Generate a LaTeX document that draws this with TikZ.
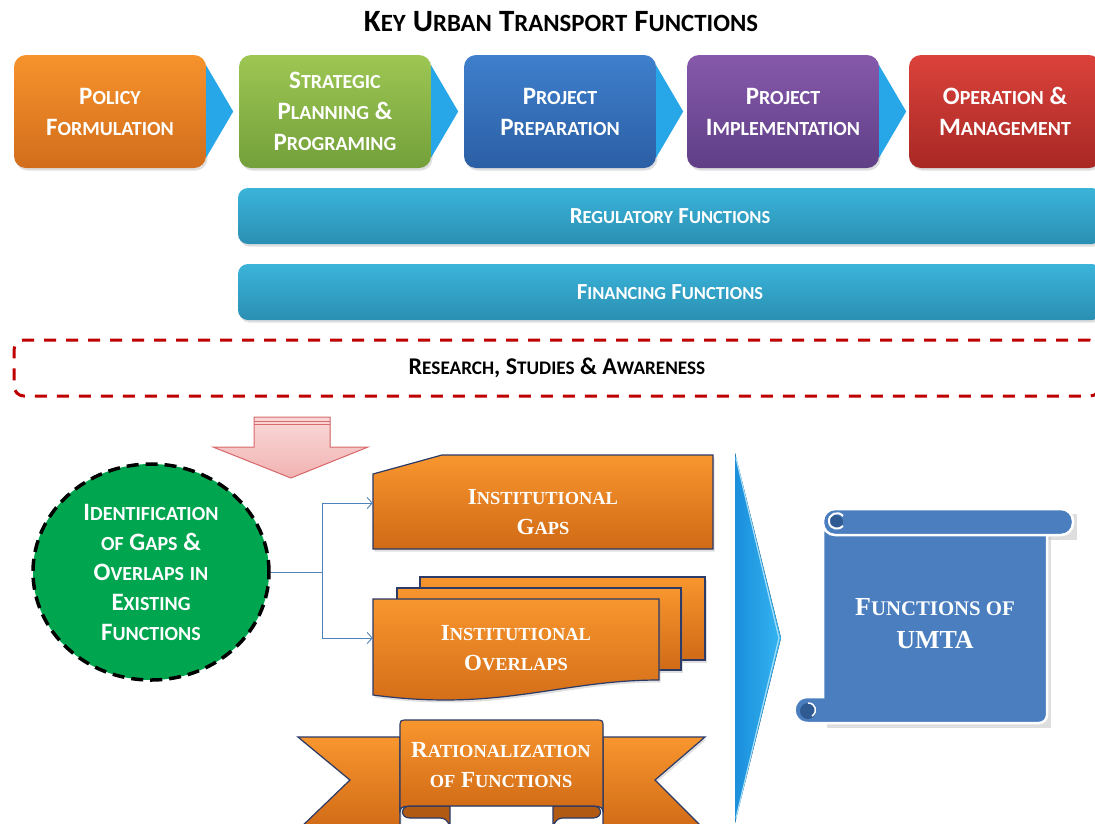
\documentclass[tikz,border=0pt]{standalone}
\usepackage{fontspec}
\setmainfont{Carlito}
\newfontfamily\serifb{Liberation Serif}
\usetikzlibrary{calc,arrows.meta,shadows,shapes.geometric}
\makeatletter
\newcommand\SC[1]{{\fontsize{\fpeval{0.8*\f@size}}{\f@baselineskip}\selectfont #1}}
\makeatother
\definecolor{orA}{HTML}{F7932C}
\definecolor{orB}{HTML}{D26D1C}
\definecolor{grA}{HTML}{9DC653}
\definecolor{grB}{HTML}{73A03A}
\definecolor{blA}{HTML}{3F7FCC}
\definecolor{blB}{HTML}{2B5FA5}
\definecolor{puA}{HTML}{8659AB}
\definecolor{puB}{HTML}{5F3F86}
\definecolor{reA}{HTML}{DB423B}
\definecolor{reB}{HTML}{A82824}
\definecolor{cyA}{HTML}{3BB4DA}
\definecolor{cyB}{HTML}{2A8FB2}
\definecolor{arrblue}{HTML}{27A6E8}
\definecolor{resred}{HTML}{C00000}
\definecolor{pinkA}{HTML}{F9D8D8}
\definecolor{pinkB}{HTML}{F2B3B3}
\definecolor{pinkD}{HTML}{D9696A}
\definecolor{idgreen}{HTML}{00A64F}
\definecolor{connblue}{HTML}{4F81BD}
\definecolor{docA}{HTML}{F8962E}
\definecolor{docB}{HTML}{D06A16}
\definecolor{docline}{HTML}{2B3A67}
\definecolor{chevA}{HTML}{1A8EDB}
\definecolor{chevB}{HTML}{35B5F2}
\definecolor{scrollblue}{HTML}{4A7EBF}
\definecolor{scrolldark}{HTML}{2F5A92}
\begin{document}
\begin{tikzpicture}[x=1pt,y=-1pt,
  topbox/.style={rounded corners=12pt, minimum width=192pt, minimum height=113pt, align=center, text=white, inner sep=0pt,
    font=\bfseries\fontsize{25}{31}\selectfont, drop shadow={opacity=0.25,shadow xshift=1.5pt,shadow yshift=-2.5pt}},
  barbox/.style={rounded corners=10pt, minimum width=864pt, minimum height=56pt, text=white, inner sep=0pt,
    top color=cyA, bottom color=cyB, font=\bfseries\fontsize{23}{25}\selectfont,
    drop shadow={opacity=0.25,shadow xshift=1.5pt,shadow yshift=-2.5pt}},
  resbox/.style={rounded corners=10pt, draw=resred, line width=3pt, dash pattern=on 12pt off 10pt,
    minimum width=1086pt, minimum height=56pt, inner sep=0pt, font=\bfseries\fontsize{24}{25}\selectfont},
  tri/.style={fill=arrblue},
  idnode/.style={ellipse, fill=idgreen, draw=black, line width=3.5pt, dash pattern=on 12pt off 7pt,
    minimum width=236pt, minimum height=216pt, inner sep=0pt, align=center, text=white,
    font=\bfseries\fontsize{25}{30}\selectfont},
  conn/.style={draw=connblue, line width=0.9pt},
  connarr/.style={conn, -{Straight Barb[length=5pt,width=11pt,line width=0.9pt]}},
  docshape/.style={top color=docA, bottom color=docB, draw=docline, line width=1.2pt,
    drop shadow={opacity=0.25,shadow xshift=1.5pt,shadow yshift=-2.5pt}},
  foldshape/.style={fill=docB!85!black, draw=docline, line width=1.2pt},
  sertext/.style={align=center, text=white, inner sep=0pt, font=\serifb\bfseries\fontsize{23}{30}\selectfont},
  pinkarrow/.style={top color=pinkA, bottom color=pinkB, draw=pinkD, line width=1pt},
  chev/.style={left color=chevA, right color=chevB},
  scrollshape/.style={fill=scrollblue, draw=white, line width=2.5pt}
]
\clip (0,0) rectangle (1095,823);
\fill[white] (0,0) rectangle (1095,823);

% title
\node[font=\bfseries\fontsize{31}{33}\selectfont] (title) at (561,22)
  {K\SC{EY} U\SC{RBAN} T\SC{RANSPORT} F\SC{UNCTIONS}};

% top process boxes
\node[topbox, top color=orA, bottom color=orB] (pol) at (110,111.5) {P\SC{OLICY}\\F\SC{ORMULATION}};
\node[topbox, top color=grA, bottom color=grB] (str) at (335,111.5) {S\SC{TRATEGIC}\\P\SC{LANNING} \&\\P\SC{ROGRAMING}};
\node[topbox, top color=blA, bottom color=blB] (prep) at (560,111.5) {P\SC{ROJECT}\\P\SC{REPARATION}};
\node[topbox, top color=puA, bottom color=puB] (impl) at (783,111.5) {P\SC{ROJECT}\\I\SC{MPLEMENTATION}};
\node[topbox, top color=reA, bottom color=reB] (ops) at (1005,111.5) {O\SC{PERATION} \&\\M\SC{ANAGEMENT}};

\foreach \a in {pol,str,prep,impl}{
  \fill[tri] ($(\a.east)+(0,-46)$) -- ($(\a.east)+(27,0)$) -- ($(\a.east)+(0,46)$) -- cycle;
}

% bars
\node[barbox] (reg) at (670,216) {R\SC{EGULATORY} F\SC{UNCTIONS}};
\node[barbox] (fin) at (670,292) {F\SC{INANCING} F\SC{UNCTIONS}};

% research
\node[resbox] (res) at (557,368) {R\SC{ESEARCH}, S\SC{TUDIES} \& A\SC{WARENESS}};

% pink down arrow
\filldraw[pinkarrow] (254,417) -- (330,417) -- (330,447) -- (368,447) -- (291,478) -- (213,447) -- (254,447) -- cycle;
\draw[pinkD, line width=0.8pt] (254,421) -- (330,421) (254,424.5) -- (330,424.5);

% identification circle
\node[idnode] (ident) at (151,572)
  {I\SC{DENTIFICATION}\\\SC{OF} G\SC{APS} \&\\O\SC{VERLAPS} \SC{IN}\\E\SC{XISTING}\\F\SC{UNCTIONS}};

% institutional gaps shape
\path[docshape] (373,474) -- (442,455) -- (713,455) -- (713,549) -- (373,549) -- cycle;
\node[sertext, minimum width=340pt] (gaps) at (543,512) {I\SC{NSTITUTIONAL}\\G\SC{APS}};

% institutional overlaps (multidocument)
\path[docshape] (420,577) rectangle (705,660);
\path[docshape] (397,588) rectangle (681,670);
\path[docshape] (373,599) -- (659,599) -- (659,680) .. controls (560,680) and (500,712) .. (373,695) -- cycle;
\node[sertext, minimum width=286pt] (ovl) at (516,648) {I\SC{NSTITUTIONAL}\\O\SC{VERLAPS}};

% connectors
\coordinate (split) at (322,572);
\draw[conn] (ident.east) -- (split);
\draw[connarr] (split) |- ([yshift=9pt]gaps.west);
\draw[connarr] (split) |- ([yshift=10pt]ovl.west);

% rationalization ribbon
\path[docshape] (298,737) -- (400,737) -- (400,830) -- (298,830) -- (350,780) -- cycle;
\path[docshape] (603,737) -- (705,737) -- (655,780) -- (705,830) -- (603,830) -- cycle;
\path[foldshape] (450,830) -- (450,806) -- (410,806) .. controls (400,806) and (400,818) .. (410,818) -- (440,818) .. controls (450,818) and (450,830) .. (450,830) -- cycle;
\path[foldshape] (553,830) -- (553,806) -- (593,806) .. controls (603,806) and (603,818) .. (593,818) -- (563,818) .. controls (553,818) and (553,830) .. (553,830) -- cycle;
\filldraw[top color=docA, bottom color=docB, draw=docline, line width=1.2pt]
  (400,811) -- (400,728) .. controls (400,720) .. (408,720) -- (595,720) .. controls (603,720) .. (603,728) -- (603,811)
  .. controls (603,806) and (596,806) .. (590,806) -- (413,806) .. controls (407,806) and (400,806) .. (400,811) -- cycle;
\node[sertext] (rat) at (501,765) {R\SC{ATIONALIZATION}\\\SC{OF} F\SC{UNCTIONS}};

% big chevron
\fill[chev] (735,453) -- (781,638) -- (735,823) -- cycle;
\draw[white!55!chevB, line width=1.2pt] (736,458) -- (779,638) -- (736,818);

% scroll
\fill[black!25, opacity=0.5] (825,514) rectangle (1077,540);
\fill[black!25, opacity=0.5] (827,537) rectangle (1051,728);
\path[scrollshape] (823,530) -- (1047,530) [rounded corners=8pt] -- (1047,723) [sharp corners] -- (808,723)
  .. controls (790,723) and (790,697) .. (808,697) -- (823,697) -- cycle;
\fill[scrolldark] (808,711) circle[radius=8pt];
\draw[white, line width=1.5pt] (808,703) .. controls (816,703) and (818,712) .. (812,716);
\path[scrollshape, rounded corners=12pt] (823,509) rectangle (1073,535);
\fill[scrolldark] (836,522) circle[radius=7pt];
\draw[white, line width=2pt] (843,516) .. controls (838,510) and (828,514) .. (829,522) .. controls (830,530) and (840,530) .. (843,526);
\node[sertext, font=\serifb\bfseries\fontsize{26}{33}\selectfont] (umta) at (935,624) {F\SC{UNCTIONS OF}\\UMTA};
\end{tikzpicture}
\end{document}
